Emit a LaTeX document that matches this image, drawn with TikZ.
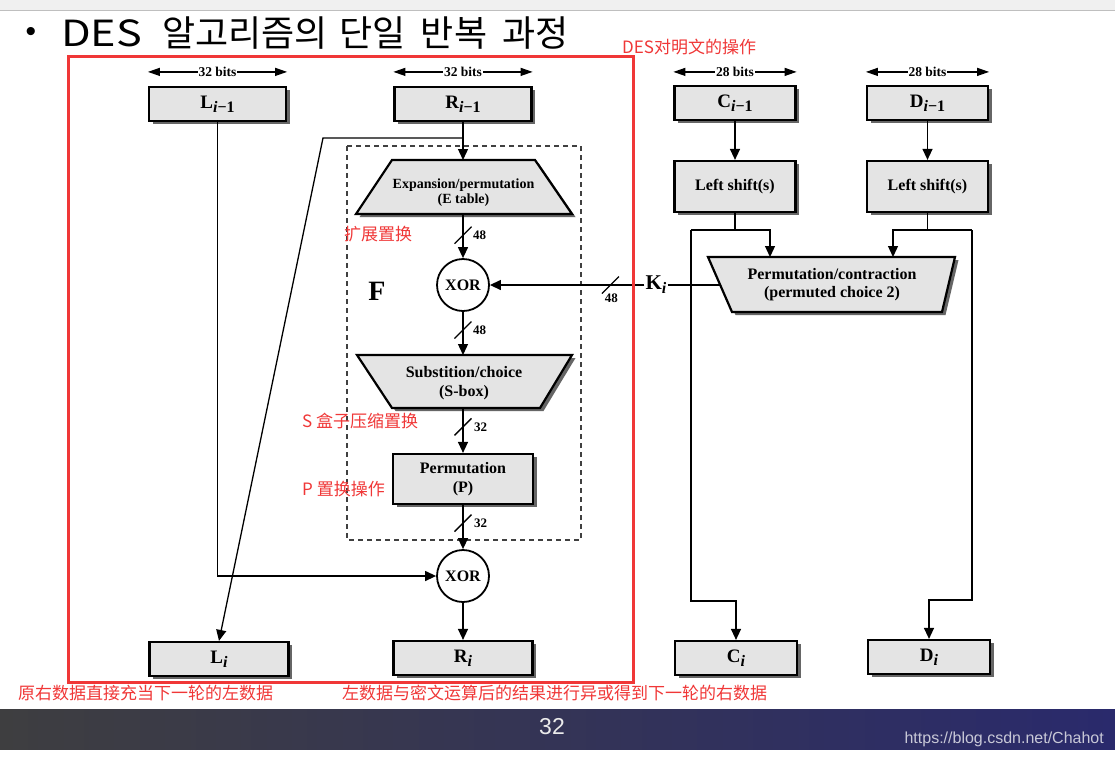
\documentclass[tikz,border=0pt]{standalone}
\usepackage{graphicx}
\usepackage{fontspec}
\setmainfont{Liberation Serif}
\newfontfamily\krfont{Noto Sans CJK KR}
\newfontfamily\zhfont{Noto Sans CJK SC}
\newfontfamily\sansfont{Liberation Sans}
\usetikzlibrary{arrows.meta,shadows,calc}
\newcommand\fsz[2]{\fontsize{#1}{#2}\selectfont}
\newcommand\lbl[2]{{\fsz{19}{19}#1}\raisebox{-4pt}{\fsz{16}{16}#2}}
\definecolor{redmark}{RGB}{240,55,55}
\definecolor{boxfill}{RGB}{228,228,228}
\definecolor{barleft}{RGB}{62,62,64}
\definecolor{barright}{RGB}{42,42,108}
\definecolor{urlgray}{RGB}{200,200,215}
\begin{document}
\begin{tikzpicture}[x=1pt,y=-1pt,
  shadowed/.style={drop shadow={shadow xshift=3.5pt,shadow yshift=-3pt,fill=black!60,opacity=1}},
  box/.style={draw=black,line width=2.2pt,fill=boxfill,inner sep=1pt,
    font=\fsz{16}{19}\bfseries,align=center,shadowed},
  trapdraw/.style={draw=black,line width=2.2pt,fill=boxfill,shadowed},
  traptext/.style={align=center,inner sep=0pt},
  xorc/.style={draw=black,circle,line width=1.8pt,minimum size=52pt,inner sep=0pt,
    fill=white,font=\fsz{16}{16}\bfseries},
  arr/.style={line width=1.3pt,-{Triangle[length=11pt,width=10pt]}},
  conn/.style={line width=1.3pt},
  dim/.style={line width=1.2pt,{Triangle[length=12pt,width=8pt]}-{Triangle[length=12pt,width=8pt]}},
  bitlab/.style={fill=white,inner sep=1pt,font=\fsz{13.5}{13.5}\bfseries},
  numlab/.style={font=\fsz{13}{13}\bfseries,inner sep=0pt},
  note/.style={text=redmark,font=\zhfont\fsz{17}{17},inner sep=0pt,anchor=west},
  fbox/.style={draw=black!75,line width=1.1pt,dash pattern=on 5pt off 4pt},
]
\fill[white] (0,0) rectangle (1115,758);
\useasboundingbox (0,0) rectangle (1115,758);

% top band
\fill[black!6] (0,0) rectangle (1115,10);
\draw[black!25,line width=1pt] (0,10.5) -- (1115,10.5);

% title
\node[font=\sansfont\fsz{30}{30},inner sep=0pt] (bullet) at (31,34) {•};
\node[font=\krfont\fsz{36}{36},inner sep=0pt,anchor=west] (title) at (61,33)
  {\scalebox{1.2}[1]{DES}\hspace{20pt}알고리즘의\hspace{12pt}단일\hspace{15pt}반복\hspace{15pt}과정};

% boxes
\node[box,minimum width=137pt,minimum height=34pt] (lprev) at (217.5,104) {\lbl{L}{\textit{i}−1}};
\node[box,minimum width=137pt,minimum height=34pt] (rprev) at (463,104) {\lbl{R}{\textit{i}−1}};
\node[box,minimum width=121pt,minimum height=34pt] (cprev) at (735,103) {\lbl{C}{\textit{i}−1}};
\node[box,minimum width=121pt,minimum height=34pt] (dprev) at (927.5,103) {\lbl{D}{\textit{i}−1}};
\node[box,minimum width=121pt,minimum height=51pt] (cls) at (735,186.5) {Left shift(s)};
\node[box,minimum width=121pt,minimum height=51pt] (dls) at (927.5,186.5) {Left shift(s)};
\node[box,minimum width=139pt,minimum height=34pt] (li) at (219,659) {\lbl{L}{\textit{i}}};
\node[box,minimum width=139pt,minimum height=34pt] (ri) at (463,658) {\lbl{R}{\textit{i}}};
\node[box,minimum width=122pt,minimum height=34pt] (ci) at (736,658) {\lbl{C}{\textit{i}}};
\node[box,minimum width=122pt,minimum height=34pt] (di) at (929,657) {\lbl{D}{\textit{i}}};

% F function dashed frame
\draw[fbox] (347,146) rectangle (581,540);
\node[font=\fsz{28}{28}\bfseries,inner sep=0pt] (F) at (377,291) {F};

% expansion
\path[trapdraw] (392,160) -- (535,160) -- (572,214) -- (356,214) -- cycle;
\node[traptext,font=\fsz{14}{15}\bfseries] (exp) at (463.5,193) {Expansion/permutation\\(E table)};
\coordinate (expT) at (463,160);
\coordinate (expB) at (463,214);

\node[xorc] (xor1) at (463,285) {XOR};

% substitution
\path[trapdraw] (357,355) -- (572,355) -- (540,408) -- (392,408) -- cycle;
\node[traptext,font=\fsz{16}{19}\bfseries] (sub) at (464,383) {Substition/choice\\(S-box)};
\coordinate (subT) at (463,355);
\coordinate (subB) at (463,408);

\node[box,minimum width=140pt,minimum height=50pt] (perm) at (463,479) {Permutation\\(P)};

\node[xorc] (xor2) at (463,576) {XOR};

% permuted choice 2
\path[trapdraw] (708,257) -- (955,257) -- (942,312) -- (732,312) -- cycle;
\node[traptext,font=\fsz{16}{18}\bfseries] (pc2) at (832,285) {Permutation/contraction\\(permuted choice 2)};
\coordinate (pc2T) at (832,257);
\coordinate (pc2L) at (720,285);

\node[inner sep=1pt,font=\bfseries] (ki) at (656,285) {{\fsz{21}{21}K}\raisebox{-4pt}{\fsz{16}{16}\textit{i}}};

% width markers
\draw[dim] ([yshift=14pt]lprev.north west) -- ([yshift=14pt]lprev.north east) node[bitlab,midway] {32 bits};
\draw[dim] ([yshift=14pt]rprev.north west) -- ([yshift=14pt]rprev.north east) node[bitlab,midway] {32 bits};
\draw[dim] ([yshift=13pt]cprev.north west) -- ([yshift=13pt]cprev.north east) node[bitlab,midway] {28 bits};
\draw[dim] ([yshift=13pt]dprev.north west) -- ([yshift=13pt]dprev.north east) node[bitlab,midway] {28 bits};

% data path
\coordinate (rb) at (463,138);
\coordinate (bend) at (323,138);
\draw[arr] (rprev.south) -- (expT);
\draw[arr] (rb) -- (bend) -- (li.north);
\draw[arr] (expB) -- coordinate[pos=.48] (s1) (xor1.north);
\draw[arr] (xor1.south) -- coordinate[pos=.42] (s2) (subT);
\draw[arr] (subB) -- coordinate[pos=.42] (s3) (perm.north);
\draw[arr] (perm.south) -- coordinate[pos=.41] (s4) (xor2.north);
\draw[arr] (xor2.south) -- (ri.north);
\draw[arr] (lprev.south) |- (xor2.west);
\draw[arr] (ki.west) -- coordinate[pos=.22] (s5) (xor1.east);
\draw[conn] (ki.east) -- (pc2L);

\foreach \s in {s1,s2,s3,s4,s5}
  \draw[conn] (\s) +(-8.5,8.5) -- +(8.5,-8.5);
\node[numlab,anchor=west] at ($(s1)+(10,0)$) {48};
\node[numlab,anchor=west] at ($(s2)+(10,0)$) {48};
\node[numlab,anchor=west] at ($(s3)+(11,0)$) {32};
\node[numlab,anchor=west] at ($(s4)+(11,0)$) {32};
\node[numlab] at ($(s5)+(1,13)$) {48};

% key schedule
\coordinate (cL) at (691,230);
\coordinate (cR) at (770,230);
\coordinate (dL) at (893,230);
\coordinate (dR) at (972,230);
\coordinate (cB) at (691,601);
\coordinate (dB) at (972,600);
\draw[arr] (cprev.south) -- (cls.north);
\draw[arr] (dprev.south) -- (dls.north);
\draw[conn] (cls.south) -- (cls.south |- cL);
\draw[conn] (dls.south) -- (dls.south |- dR);
\draw[arr] (cL) -- (cR) -- (cR |- pc2T);
\draw[arr] (dR) -- (dL) -- (dL |- pc2T);
\draw[arr] (cL) -- (cB) -| (ci.north);
\draw[arr] (dR) -- (dB) -| (di.north);

% red annotations
\node[note] (n1) at (622,47) {DES对明文的操作};
\node[note] (n2) at (344,234) {扩展置换};
\node[note] (n3) at (302,421) {S 盒子压缩置换};
\node[note] (n4) at (302,489) {P 置换操作};
\node[note] (n5) at (18,693) {原右数据直接充当下一轮的左数据};
\node[note] (n6) at (342,693) {左数据与密文运算后的结果进行异或得到下一轮的右数据};
\draw[redmark,line width=3pt] (68,56) rectangle (633,682);

% bottom bar
\shade[left color=barleft,right color=barright] (0,709) rectangle (1115,749);
\node[font=\sansfont\fsz{23}{23},text=black!8,inner sep=0pt] (pnum) at (552,727) {32};
\node[font=\sansfont\fsz{16}{16},text=urlgray,inner sep=0pt,anchor=east] (url) at (1104,739) {https://blog.csdn.net/Chahot};
\end{tikzpicture}
\end{document}
